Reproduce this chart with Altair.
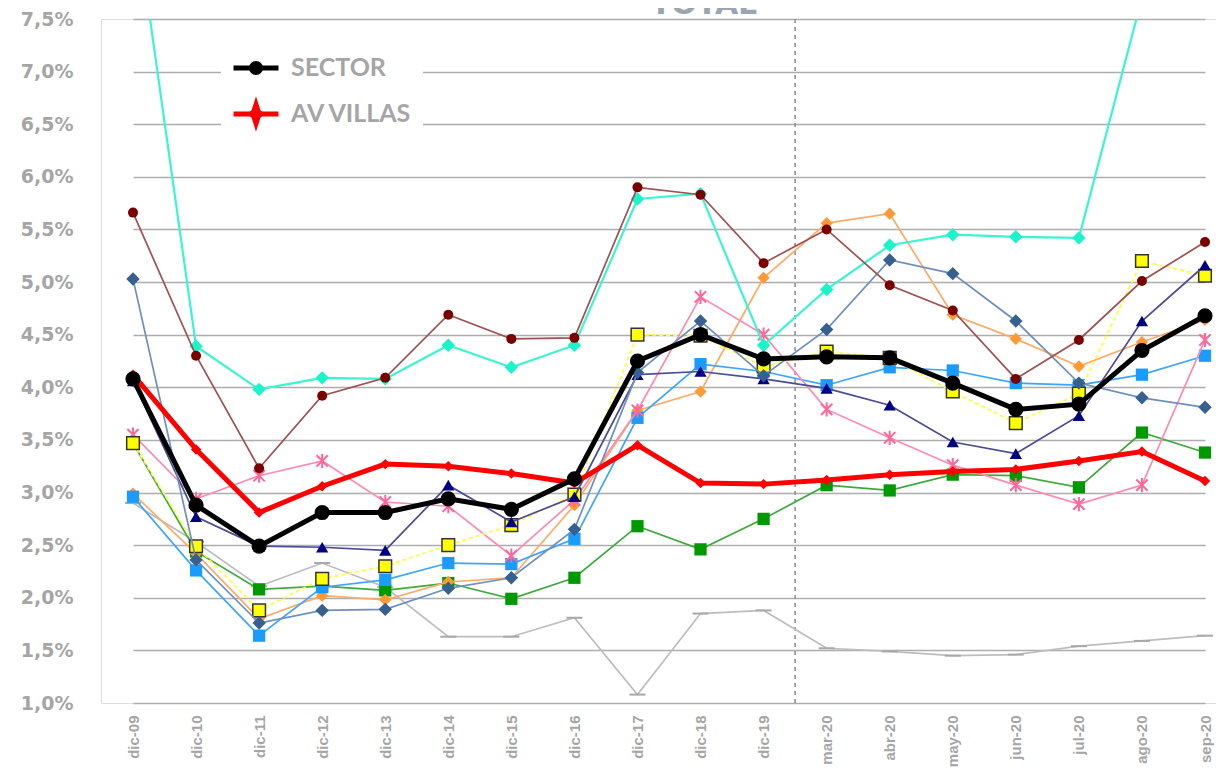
import altair as alt
import pandas as pd

title_text = ["TOTAL"]

categories = ["dic-09", "dic-10", "dic-11", "dic-12", "dic-13", "dic-14", "dic-15", "dic-16",
              "dic-17", "dic-18", "dic-19", "mar-20", "abr-20", "may-20", "jun-20", "jul-20",
              "ago-20", "sep-20"]

sector    = [4.08, 2.88, 2.49, 2.81, 2.81, 2.94, 2.84, 3.13, 4.25, 4.50, 4.27, 4.29, 4.28, 4.04, 3.79, 3.84, 4.35, 4.68]
av_villas = [4.12, 3.41, 2.81, 3.06, 3.27, 3.25, 3.18, 3.09, 3.45, 3.09, 3.08, 3.12, 3.17, 3.20, 3.22, 3.30, 3.39, 3.11]
turquesa  = [8.65, 4.39, 3.98, 4.09, 4.08, 4.40, 4.19, 4.40, 5.79, 5.84, 4.40, 4.93, 5.35, 5.45, 5.43, 5.42, 7.70, 7.80]
granate   = [5.66, 4.30, 3.23, 3.92, 4.09, 4.69, 4.46, 4.47, 5.90, 5.83, 5.18, 5.50, 4.97, 4.73, 4.08, 4.45, 5.01, 5.38]
acero     = [5.03, 2.36, 1.76, 1.88, 1.89, 2.09, 2.19, 2.65, 4.14, 4.63, 4.11, 4.55, 5.21, 5.08, 4.63, 4.04, 3.90, 3.81]
marino    = [4.06, 2.77, 2.49, 2.48, 2.45, 3.07, 2.72, 2.96, 4.12, 4.15, 4.08, 3.99, 3.83, 3.48, 3.37, 3.73, 4.63, 5.16]
amarillo  = [3.47, 2.49, 1.88, 2.18, 2.30, 2.50, 2.69, 2.98, 4.50, 4.49, 4.20, 4.34, 4.28, 3.96, 3.66, 3.94, 5.20, 5.06]
rosa      = [3.55, 2.94, 3.16, 3.30, 2.91, 2.87, 2.40, 2.93, 3.78, 4.86, 4.50, 3.79, 3.52, 3.26, 3.07, 2.89, 3.07, 4.45]
celeste   = [2.96, 2.26, 1.64, 2.10, 2.17, 2.33, 2.32, 2.56, 3.71, 4.22, 4.15, 4.02, 4.19, 4.16, 4.04, 4.02, 4.12, 4.30]
naranja   = [2.99, 2.42, 1.80, 2.02, 1.98, 2.15, 2.19, 2.88, 3.78, 3.96, 5.04, 5.56, 5.65, 4.69, 4.46, 4.20, 4.43, 4.64]
verde     = [3.47, 2.44, 2.08, 2.11, 2.07, 2.14, 1.99, 2.19, 2.68, 2.46, 2.75, 3.07, 3.02, 3.17, 3.16, 3.05, 3.57, 3.38]
gris      = [2.90, 2.53, 2.11, 2.33, 2.10, 1.63, 1.63, 1.81, 1.08, 1.85, 1.88, 1.52, 1.49, 1.45, 1.46, 1.54, 1.59, 1.64]

y_ticks = [1.0, 1.5, 2.0, 2.5, 3.0, 3.5, 4.0, 4.5, 5.0, 5.5, 6.0, 6.5, 7.0, 7.5]

DASH = "M-1,0L1,0"
ASTER = "M-0.8,-0.8L0.8,0.8M-0.8,0.8L0.8,-0.8M0,-1L0,1"

# name, values, line colour, line width, dash, shape, fill, stroke, size, stroke width
specs = [
    ("gris", gris, "#BDBDBD", 1.7, None, DASH, None, "#A8A8A8", 256, 2),
    ("verde", verde, "#3DAA3D", 1.7, None, "square", "#009A00", None, 150, 0),
    ("naranja", naranja, "#FFAA66", 1.7, None, "diamond", "#FF9933", None, 150, 0),
    ("celeste", celeste, "#3DA5FF", 1.7, None, "square", "#1A9BFF", None, 150, 0),
    ("rosa", rosa, "#FF8AB0", 1.7, None, ASTER, None, "#FF6699", 200, 2),
    ("amarillo", amarillo, "#FFFF33", 1.7, [4, 3], "square", "#FFFF00", "#333333", 160, 1.5),
    ("marino", marino, "#4B4B96", 1.7, None, "triangle-up", "#000080", None, 150, 0),
    ("acero", acero, "#6D8FBF", 1.7, None, "diamond", "#35608F", None, 180, 0),
    ("turquesa", turquesa, "#3AF5CF", 2.2, None, "diamond", "#19F5C8", None, 180, 0),
    ("granate", granate, "#A05050", 1.7, None, "circle", "#7A0000", None, 100, 0),
    ("AV VILLAS", av_villas, "#FF0000", 5, None, "diamond", "#FF0000", None, 110, 0),
    ("SECTOR", sector, "#000000", 5, None, "circle", "#000000", None, 230, 0),
]

rows = []
for name, vals, *_ in specs:
    for c, v in zip(categories, vals):
        rows.append({"series": name, "periodo": c, "valor": v})
df = pd.DataFrame(rows)

GRAY = "#A5A5A5"

x_enc = alt.X(
    "periodo:O",
    sort=categories,
    scale=alt.Scale(type="point", domain=categories, range=[32, 1104], padding=0),
    axis=alt.Axis(labelAngle=-90, domain=False, ticks=False, grid=False,
                  labelFont="Liberation Sans", labelFontWeight="bold", labelFontSize=15,
                  labelColor=GRAY, labelPadding=12, title=None),
)
y_enc = alt.Y(
    "valor:Q",
    scale=alt.Scale(domain=[1.0, 7.5], nice=False, zero=False),
    axis=alt.Axis(values=y_ticks,
                  labelExpr="replace(format(datum.value, '.1f'), '.', ',') + '%'",
                  grid=True, gridColor="#ADADAD", gridWidth=1.3, domain=False, ticks=False,
                  labelFont="DejaVu Sans", labelFontWeight="bold", labelFontSize=19,
                  labelColor=GRAY, labelPadding=28, title=None),
)

base = alt.Chart(df)

rule = base.transform_filter(
    (alt.datum.series == "SECTOR") & (alt.datum.periodo == "dic-19")
).mark_rule(xOffset=31.5, strokeDash=[4, 4], color="#8C8C8C", strokeWidth=1.5).encode(x=x_enc)

layers = [rule]
for name, vals, lcol, lw, dash, shape, fill, stroke, size, sw in specs:
    sub = base.transform_filter(alt.datum.series == name)
    lk = dict(color=lcol, strokeWidth=lw, clip=True)
    if dash:
        lk["strokeDash"] = dash
    layers.append(sub.mark_line(**lk).encode(x=x_enc, y=y_enc))
    pk = dict(shape=shape, size=size, opacity=1, clip=True)
    if fill:
        pk["filled"] = True
        pk["fill"] = fill
        if stroke:
            pk["stroke"] = stroke
            pk["strokeWidth"] = sw
        else:
            pk["strokeWidth"] = 0
    else:
        pk["filled"] = False
        pk["stroke"] = stroke
        pk["strokeWidth"] = sw
    layers.append(sub.mark_point(**pk).encode(x=x_enc, y=y_enc))

leg_dom = ["SECTOR", "AV VILLAS"]
leg_cols = ["#000000", "#FF0000"]
leg_paths = [
    "M-1,0L1,0M-0.2,0A0.2,0.2,0,1,0,0.2,0A0.2,0.2,0,1,0,-0.2,0Z",
    "M-1,0L1,0M0,-0.42L0.1,-0.1L0.25,0L0.1,0.1L0,0.42L-0.1,0.1L-0.25,0L-0.1,-0.1Z",
]
legend = alt.Legend(orient="none", legendX=120, legendY=14, direction="vertical", padding=10,
                    fillColor="white", symbolSize=2025, symbolStrokeWidth=5, symbolOpacity=1,
                    labelFont="Lato", labelFontSize=25, labelFontWeight="bold", labelColor=GRAY,
                    labelOffset=10, rowPadding=6, title=None)
legend_layer = base.transform_filter(
    alt.FieldOneOfPredicate(field="series", oneOf=leg_dom)
).mark_point(opacity=0, filled=True).encode(
    x=x_enc, y=y_enc,
    fill=alt.Fill("series:N", sort=leg_dom, scale=alt.Scale(domain=leg_dom, range=leg_cols), legend=legend),
    stroke=alt.Stroke("series:N", sort=leg_dom, scale=alt.Scale(domain=leg_dom, range=leg_cols), legend=legend),
    shape=alt.Shape("series:N", sort=leg_dom, scale=alt.Scale(domain=leg_dom, range=leg_paths), legend=legend),
)
layers.append(legend_layer)

# chart title, mostly above the visible frame as in the original
title_layer = alt.Chart(pd.DataFrame({"t": title_text})).mark_text(
    font="DejaVu Sans", fontSize=30, fontWeight="bold", color="#9AA5B1",
    align="center", baseline="alphabetic",
).encode(text="t:N", x=alt.value(603), y=alt.value(-5))
layers.append(title_layer)

chart = alt.layer(*layers).properties(
    width=1115,
    height=684,
    padding={"left": 93, "top": 11, "right": 0, "bottom": 66},
    autosize=alt.AutoSizeParams(type="none"),
).configure_view(stroke=None).configure(background="white")

chart.save("out.html", embed_options={"renderer": "svg", "actions": False})
